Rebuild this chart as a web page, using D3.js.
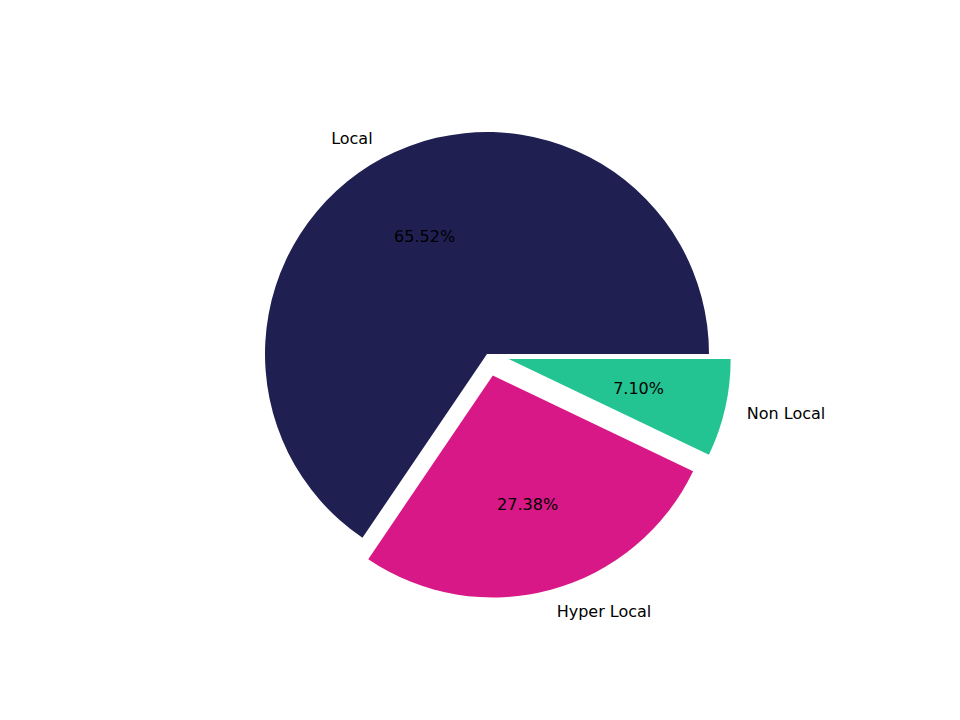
<!DOCTYPE html>
<html><head><meta charset="utf-8">
<script src="https://cdn.jsdelivr.net/npm/d3@7"></script>
<style>body{margin:0;background:#fff}text{font-family:"DejaVu Sans",sans-serif;font-size:16px}</style>
</head><body><svg id="c" width="960" height="720"></svg>
<script>
const categories = ["Local", "Hyper Local", "Non Local"];
const values = [65.52, 27.38, 7.10];
const explode = [0, 0.1, 0.1];
const colors = ["#1f1f52", "#d81886", "#23c492"];

const cx = 487, cy = 354, r = 222;
const svg = d3.select("#c");
const pie = d3.pie().sort(null).startAngle(Math.PI/2).endAngle(Math.PI/2 - 2*Math.PI);
const arcs = pie(values);
const arc = d3.arc().innerRadius(0).outerRadius(r);
const g = svg.append("g").attr("transform", `translate(${cx},${cy})`);
arcs.forEach((a, i) => {
  const mid = (a.startAngle + a.endAngle) / 2;
  const ux = Math.sin(mid), uy = -Math.cos(mid);
  const off = explode[i] * r;
  const gg = g.append("g").attr("transform", `translate(${ux*off},${uy*off})`);
  gg.append("path").attr("d", arc({startAngle: Math.min(a.startAngle,a.endAngle), endAngle: Math.max(a.startAngle,a.endAngle)})).attr("fill", colors[i]);
  gg.append("text").attr("x", ux*1.1*r).attr("y", uy*1.1*r).attr("dy", "0.35em")
    .attr("text-anchor", ux < 0 ? "end" : "start").text(categories[i]);
  gg.append("text").attr("x", ux*0.6*r).attr("y", uy*0.6*r).attr("dy", "0.35em")
    .attr("text-anchor", "middle").text(values[i].toFixed(2) + "%");
});
</script></body></html>
